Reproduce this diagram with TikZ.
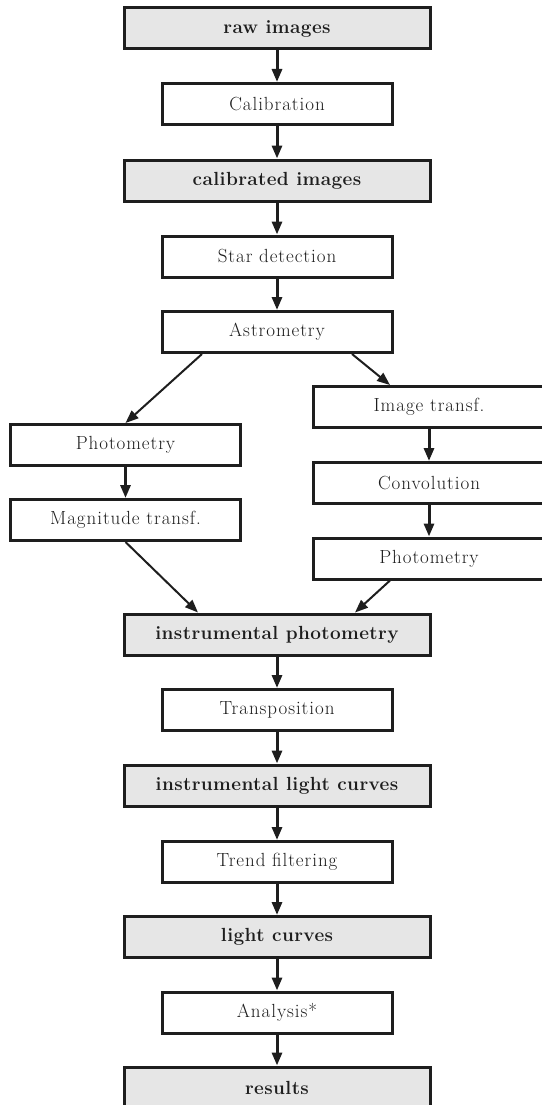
\documentclass[tikz,border=0pt]{standalone}
\usepackage{fontspec}
\setmainfont{Latin Modern Roman}[LetterSpace=5,BoldFeatures={LetterSpace=2}]
\usetikzlibrary{arrows.meta,calc}
\definecolor{boxgray}{HTML}{E6E6E6}
\definecolor{ink}{HTML}{1E1E1E}
\begin{document}
\begin{tikzpicture}[x=1pt,y=1pt,
  base/.style={draw=ink,line width=3pt,minimum height=41pt,inner sep=0pt,
    text=ink,font=\fontsize{19}{22}\selectfont},
  datbox/.style={base,fill=boxgray,minimum width=306pt,font=\fontsize{19}{22}\selectfont\bfseries},
  procbox/.style={base,fill=white,minimum width=230pt},
  sidebox/.style={base,fill=white,minimum width=232pt},
  flow/.style={draw=ink,line width=3pt,-{Triangle[length=13pt,width=10pt]}},
  diag/.style={draw=ink,line width=2pt,-{Triangle[length=13pt,width=10pt]}}]
\useasboundingbox (0,0) rectangle (541,-1105);
\node[datbox]  (raw)      at (277,-28.5)  {raw images};
\node[procbox] (calib)    at (277,-104)   {Calibration};
\node[datbox]  (calimg)   at (277,-180.5) {calibrated images};
\node[procbox] (star)     at (277,-256.5) {Star detection};
\node[procbox] (astro)    at (277,-332)   {Astrometry};
\node[sidebox] (imgt)     at (429,-407)   {Image transf.};
\node[procbox] (photl)    at (125.5,-445) {Photometry};
\node[sidebox] (conv)     at (429,-483)   {Convolution};
\node[procbox] (magt)     at (125.5,-520) {Magnitude transf.};
\node[sidebox] (photr)    at (429,-558.5) {Photometry};
\node[datbox]  (instr)    at (277,-634.5) {instrumental photometry};
\node[procbox] (trans)    at (277,-710)   {Transposition};
\node[datbox]  (ilc)      at (277,-785.5) {instrumental light curves};
\node[procbox] (trend)    at (277,-862)   {Trend filtering};
\node[datbox]  (lc)       at (277,-937)   {light curves};
\node[procbox] (anal)     at (277,-1012.5){Analysis*};
\node[datbox]  (res)      at (277,-1087.5){results};

\draw[flow] (raw) -- (calib);
\draw[flow] (calib) -- (calimg);
\draw[flow] (calimg) -- (star);
\draw[flow] (star) -- (astro);
\draw[flow] (imgt) -- (conv);
\draw[flow] (conv) -- (photr);
\draw[flow] (photl) -- (magt);
\draw[flow] (instr) -- (trans);
\draw[flow] (trans) -- (ilc);
\draw[flow] (ilc) -- (trend);
\draw[flow] (trend) -- (lc);
\draw[flow] (lc) -- (anal);
\draw[flow] (anal) -- (res);

\draw[diag] ($(astro.south)+(-75,0)$) -- (photl.north);
\draw[diag] ($(astro.south)+(75,0)$) -- ($(imgt.north)+(-39,0)$);
\draw[diag] (magt.south) -- ($(instr.north)+(-79,0)$);
\draw[diag] ($(photr.south)+(-39,0)$) -- ($(instr.north)+(78,0)$);
\end{tikzpicture}
\end{document}
